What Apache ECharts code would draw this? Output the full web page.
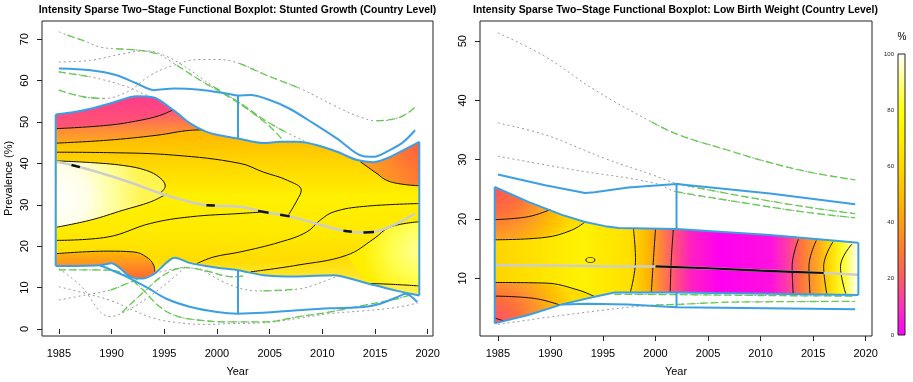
<!DOCTYPE html>
<html>
<head>
<meta charset="utf-8">
<script src="https://cdn.jsdelivr.net/npm/echarts@6/dist/echarts.min.js"></script>
<style>
  html, body { margin: 0; padding: 0; background: #fff; }
  #chart { width: 913px; height: 382px; }
</style>
</head>
<body>
<div id="chart"></div>
<script>
// ---- ticks ----
const yearTicks = [1985, 1990, 1995, 2000, 2005, 2010, 2015, 2020];
const yTicksL = [0, 10, 20, 30, 40, 50, 60, 70];
const yTicksR = [10, 20, 30, 40, 50];

// ---- left panel: stunted growth ----
const boxUpL = [[1984.7,51.8],[1986.5,52.4],[1988,53.2],[1990,54.6],[1992.4,56.2],[1994,55.9],[1995.9,52.8],[1997.5,49.6],[1999,47.6],[2000.6,46.6],[2002,46.0],[2004.4,44.9],[2006,45.2],[2007.6,45.2],[2009.5,44.4],[2011.4,42.8],[2013.3,40.8],[2014.9,40.3],[2016.1,41.2],[2017.7,43.2],[2019.2,45.2]];
const boxLoL = [[1984.7,15.2],[1988.9,15.4],[1990,15.9],[1991.8,12.6],[1993,12.2],[1994.1,13.4],[1996,17.2],[1997.5,15.9],[2000,14.8],[2002,14.2],[2004.4,13.0],[2007.6,12.7],[2011.1,13.0],[2012.6,12.2],[2014.9,10.6],[2017.1,9.2],[2019.2,8.1]];
const fenceUpL = [[1985,62.9],[1988,62.5],[1990.5,61.3],[1992.4,59.3],[1994,57.7],[1995.9,58.1],[1998.4,57.8],[2000.9,56.9],[2002,56.4],[2003.2,56.5],[2005,55.3],[2006.9,53.2],[2009.2,49.6],[2011.4,46.0],[2013.9,41.7],[2014.9,41.6],[2016.4,43.2],[2017.7,45.2],[2018.8,48.0]];
const fenceLoL = [[1988.9,15.4],[1991.1,13.0],[1993.3,10.1],[1995.2,7.3],[1997.5,5.3],[2000,4.1],[2002,3.7],[2004.4,3.9],[2007.6,4.5],[2010.7,5.0],[2013.9,5.3],[2015.5,6.1],[2017.1,7.7],[2017.9,8.5],[2019,6.5]];
const whiskL = [[[2002,46.0],[2002,56.4]], [[2002,14.2],[2002,3.7]]];
const medL = [[1984.8,40.4],[1986.7,39.3],[1989.6,37.2],[1992,35.2],[1994.6,32.8],[1997,31.0],[1999,29.9],[2002.2,29.5],[2004.4,28.3],[2006.9,27.2],[2009.5,25.4],[2012,23.7],[2013.9,23.3],[2015.2,23.6],[2017.1,25.5],[2018.8,27.9]];
const medDashL = [[[1986.2,39.6],[1987.0,39.1]], [[1999.0,29.9],[1999.8,29.8]], [[2003.9,28.5],[2004.9,28.1]], [[2006.0,27.6],[2006.9,27.2]], [[2012.0,23.7],[2012.8,23.5]], [[2013.9,23.3],[2014.9,23.4]]];

const c1L = [[1984.8,48.4],[1989.6,49.2],[1992.7,50.4],[1994.6,51.6],[1995.8,52.9]];
const c2L = [[1984.8,44.9],[1989.6,45.6],[1994.3,46.8],[1997.5,48.0],[1998.7,48.1]];
const c3L = [[1984.8,42.7],[1989.6,42.6],[1995.9,42.0],[2002.2,40.0],[2004.4,37.9],[2006.7,35.9],[2008.0,33.5],[2007.6,31.1],[2006.8,27.6]];
const c4L = [[1984.8,40.6],[1988,40.2],[1991.1,39.5],[1993.3,38.3],[1994.6,36.5],[1995.1,34.5],[1994.6,32.8]];
const c5L = [[1984.8,24.6],[1988,26.3],[1991.1,28.7],[1993.7,30.7],[1995.2,32.6]];
const c6L = [[1984.8,21.4],[1989.6,22.2],[1993.7,25.5],[1997.5,27.1],[2002.2,27.9],[2004,28.2]];
const c7L = [[1984.8,18.2],[1989.6,18.8],[1992.1,18.6],[1993.3,17.4],[1994.0,15.4],[1994.1,13.8]];
const cAL = [[1998.1,15.8],[1999.7,17.4],[2002.2,18.6],[2006,21.0],[2008.5,23.4],[2009.8,26.3],[2011.1,28.3],[2013.9,29.6],[2019.2,30.3]];
const cBL = [[2003.2,13.8],[2007.6,15.4],[2012.3,17.8],[2014.9,21.8],[2016.4,24.6],[2019.2,25.9]];
const cRL = [[2013.6,40.4],[2015.2,37.5],[2016.1,35.9],[2017.5,35.0],[2019.2,34.6]];
const cBRL = [[2014.2,11.0],[2016.5,10.8],[2019.2,10.4]];

const outU1 = [[1985,71.8],[1985.8,71.0],[1987.5,69.5],[1988.9,68.1],[1990.5,67.7],[1992.7,67.3],[1994.3,66.5],[1996.2,63.7],[1998.4,60.1],[2001.6,55.3],[2004.7,49.6],[2006.3,45.5]];
const outU2 = [[1985,64.5],[1988,64.9],[1991.1,66.5],[1993.3,67.2],[1994.6,66.5],[1996.5,64.1],[1999.7,58.5],[2002.2,54.6],[2004.5,50.5],[2006.5,47.6],[2008.3,45.4]];
const outU3 = [[1985,57.7],[1987.3,56.1],[1989.2,55.7],[1991.5,57.3],[1993.7,61.3],[1995.9,63.7],[1998.4,65.1],[2000,65.1],[2002.2,64.1],[2004.7,61.3],[2007.9,58.1],[2011.1,54.0],[2013.6,51.2],[2015.2,50.3],[2017.4,51.2],[2019,54.0]];
const outU4 = [[1985,62.1],[1988,60.9],[1991.5,58.5],[1993.3,56.5],[1994.3,55.7]];
const outLA = [[1985,14.6],[1987,10.6],[1989.9,3.0],[1991.5,4.5],[1993.3,7.3],[1995.2,11.0],[1996.8,14.4]];
const outLB = [[1985,10.2],[1987.5,8.6],[1990,6.8],[1992,4.6],[1994,2.6],[1996,1.6],[1999,1.1],[2001.3,1.3],[2004.4,1.5],[2007.6,2.5],[2010.7,3.7],[2014,4.4],[2017,5.2],[2019.1,6.3]];
const outLC = [[1985,14.3],[1990,14.2],[1991.5,12.6],[1993,9.4],[1994.6,5.3],[1996.2,3.1],[1998.4,2.1],[2001.3,1.7],[2004.4,1.7],[2007.6,2.9],[2010.7,4.1],[2013.9,5.7],[2017.1,7.3],[2018.6,8.4]];
const outLD = [[1985,7.0],[1987.5,8.2],[1989.9,9.4],[1991.5,11.0],[1993,12.6],[1995,14.0],[1997,15.0]];
const outLE = [[1991,4.0],[1993,8.8],[1995.2,13.4],[1997.1,14.8],[1999,14.0],[2001.6,12.6],[2002.5,12.8]];
const outLF = [[1998.4,14.6],[2001.6,10.3],[2004.4,9.2],[2007.6,9.6],[2010.7,12.0],[2011.5,12.9]];

// ---- right panel: low birth weight ----
const boxUpR = [[1984.7,25.4],[1987.9,22.9],[1991.1,20.7],[1993.3,19.5],[1995.2,18.8],[1996.5,18.5],[2002,18.3],[2010.9,17.3],[2019.3,16.0]];
const boxLoR = [[1984.7,2.4],[1987.9,3.8],[1991.1,5.6],[1994.2,6.9],[1996.1,7.6],[2002,7.6],[2019.3,7.2]];
const fenceUpR = [[1985,27.5],[1989.5,25.7],[1993.3,24.4],[1994.2,24.5],[1997.4,25.3],[2002,25.9],[2010.9,24.3],[2019,22.5]];
const fenceLoR = [[1991.1,5.6],[1993.6,5.7],[1997.4,5.6],[2002,5.1],[2019,4.8]];
const whiskR = [[[2002,18.3],[2002,25.9]], [[2002,7.6],[2002,5.1]]];
const medR = [[1984.8,12.2],[1990,12.15],[1995,12.05],[2000,12.0],[2005,11.7],[2010,11.3],[2013,11.1],[2016,10.9],[2019.3,10.6]];

const r1R = [[1984.7,19.9],[1987.9,20.4],[1990,21.6]];
const r2R = [[1984.7,16.5],[1989.5,16.9],[1992,18.1],[1993.3,19.5]];
const r3R = [[1984.7,9.3],[1989.5,9.2],[1992.7,8.0],[1994.2,6.9]];
const r4R = [[1984.7,7.0],[1988.5,6.6],[1990.9,5.5]];
const r5R = [[1984.7,3.3],[1985.6,2.8]];
const vR = [
  [[1997.9,18.4],[1998.1,13.1],[1997.6,7.6]],
  [[2000,18.3],[1999.8,13.1],[1999.6,7.6]],
  [[2001.7,18.3],[2001.5,13.1],[2001.4,7.6]],
  [[2013.6,16.6],[2013.0,12.0],[2013.1,7.4]],
  [[2015.3,16.4],[2014.6,12.0],[2014.7,7.4]],
  [[2016.9,16.2],[2016.0,12.0],[2016.3,7.4]],
  [[2018.7,15.8],[2017.6,12.0],[2018.1,7.4]]
];
const ellipseR = [1993.8, 13.1];

const outRA = [[1985,51.4],[1989.5,47.4],[1994.2,41.8],[1999.6,36.4],[2002.2,34.2],[2006.9,31.6],[2010.1,29.9],[2014.4,28.0],[2019,26.6]];
const outRB = [[1985,36.2],[1989.5,34.2],[1995.2,30.2],[1999.8,27.4],[2002,26.0],[2007.8,24.0],[2014.1,22.1],[2019,20.9]];
const outRC = [[1985,30.6],[1992.2,28.3],[1999.8,26.1],[2002,24.6],[2007.8,22.9],[2014.1,21.2],[2019,20.2]];
const outRD = [[1985,2.2],[1992.6,4.1],[2000,5.5],[2002,5.6],[2007.8,6.0],[2019,6.1]];
const outRE = [[1996.1,7.3],[2002,7.25],[2010,7.1],[2019,7.0]];

// ---- style ----
const FONT = 'Liberation Sans';
const BLUE = '#3d9fe3';
const GRAY = '#9a9a9a';
const GREEN = '#5fcf48';

function lineS(g, data, color, width, type, z, smooth) {
  return {
    type: 'line', xAxisIndex: g, yAxisIndex: g, data: data, symbol: 'none',
    smooth: smooth || false, z: z, silent: true,
    lineStyle: { color: color, width: width, type: type }
  };
}
function poly(g, pts, fill, z) {
  return {
    type: 'custom', xAxisIndex: g, yAxisIndex: g, z: z, silent: true,
    data: [pts[0]],
    renderItem: function (params, api) {
      return {
        type: 'polygon',
        shape: { points: pts.map(function (p) { return api.coord(p); }) },
        style: { fill: fill }
      };
    }
  };
}
const upTo = (c, x) => c.filter(p => p[0] <= x);
const from = (c, x) => c.filter(p => p[0] >= x);
const rev = a => a.slice().reverse();
const lin = (x, y, x2, y2, stops) => ({ type: 'linear', x: x, y: y, x2: x2, y2: y2,
  colorStops: stops.map(s => ({ offset: s[0], color: s[1] })) });
const rad = (x, y, r, stops) => ({ type: 'radial', x: x, y: y, r: r,
  colorStops: stops.map(s => ({ offset: s[0], color: s[1] })) });

const series = [];

// outlier curves: gray dotted, with green dashed parts (index ranges)
const outL = [[outU1, [[1,2],[4,6],[7,11]]], [outU2, [[6,9]]], [outU3, [[0,2],[8,10],[13,15]]], [outU4, [[0,1]]],
  [outLA, []], [outLB, []], [outLC, [[0,13]]], [outLD, [[2,4]]], [outLE, [[0,6]]], [outLF, [[2,3]]]];
const outR = [[outRA, [[3,8]]], [outRB, [[4,7]]], [outRC, [[3,6]]], [outRD, [[2,5]]], [outRE, [[0,3]]]];
[[0, outL], [1, outR]].forEach(function (g) {
  g[1].forEach(function (o) {
    series.push(lineS(g[0], o[0], GRAY, 1, [2, 3], 1, 0.4));
    o[1].forEach(function (r) {
      series.push(lineS(g[0], o[0].slice(r[0], r[1] + 1), GREEN, 1.3, [7, 4], 1, 0.4));
    });
  });
});

// left fills
series.push(poly(0, boxUpL.concat(rev(boxLoL)), lin(0, 0, 0, 1, [[0,'#ffa000'],[0.21,'#ffbd00'],[0.33,'#ffd400'],[0.5,'#fff000'],[0.68,'#ffea00'],[0.82,'#ffdc00'],[1,'#fff25a']]), 2));
series.push(poly(0, c2L.concat(rev(upTo(boxUpL, 1998.7))), lin(0, 0, 0, 1, [[0,'#ff4a86'],[0.35,'#ff5c6c'],[0.7,'#ff8a3a'],[1,'#ffaa1c']]), 3));
series.push(poly(0, c1L.concat(rev(upTo(boxUpL, 1995.8))), lin(0, 0, 0, 1, [[0,'#ff3c8c'],[1,'#ff5670']]), 4));
series.push(poly(0, c4L.concat(rev(c5L)), rad(0, 0.55, 1.3, [[0,'#ffffff'],[0.35,'#fffee8'],[0.65,'#ffffa0'],[1,'#fff450']]), 4));
series.push(poly(0, c7L.concat(rev(upTo(boxLoL, 1994.1))), lin(0, 0, 0, 1, [[0,'#ffb800'],[0.45,'#ff9420'],[1,'#ff682e']]), 4));
series.push(poly(0, cRL.concat(rev(from(boxUpL, 2013.6))), lin(0, 1, 1, 0, [[0,'#ffb010'],[0.5,'#ff8a2a'],[1,'#ff5c40']]), 4));
series.push(poly(0, from(cBL, 2012.3).concat(rev(cBRL)), rad(1, 0.45, 0.9, [[0,'#ffff98'],[0.45,'#ffff50'],[1,'#ffee00']]), 4));

// right fills
series.push(poly(1, boxUpR.concat(rev(boxLoR)), lin(0, 0, 1, 0, [[0,'#ffd400'],[0.24,'#fff200'],[0.37,'#ffe000'],[0.42,'#ffb800'],[0.46,'#ff8040'],[0.5,'#ff4c80'],[0.54,'#ff20c0'],[0.62,'#ff00f0'],[0.76,'#ff10e0'],[0.81,'#ff40a0'],[0.84,'#ff7040'],[0.89,'#ffa820'],[0.92,'#ffd800'],[0.96,'#ffff30'],[1,'#ffffff']]), 2));
series.push(poly(1, r2R.concat(rev(upTo(boxUpR, 1993.3))), rad(0, 0, 1.6, [[0,'#ff5458'],[0.3,'#ff6e3c'],[0.55,'#ff9828'],[0.8,'#ffc000'],[1,'#ffdc00']]), 3));
series.push(poly(1, r3R.concat(rev(upTo(boxLoR, 1994.2))), rad(0, 1, 2.0, [[0,'#ff5070'],[0.3,'#ff6e3c'],[0.55,'#ff9828'],[0.8,'#ffc000'],[1,'#ffdc00']]), 3));

// contours
[c1L, c2L, c3L, c4L, c5L, c6L, c7L, cAL, cBL, cRL, cBRL].forEach(c => series.push(lineS(0, c, '#111', 1, 'solid', 10, 0.4)));
[r1R, r2R, r3R, r4R, r5R].concat(vR).forEach(c => series.push(lineS(1, c, '#111', 1, 'solid', 10, 0.4)));
series.push({ type: 'scatter', xAxisIndex: 1, yAxisIndex: 1, data: [ellipseR], symbol: 'circle', symbolSize: [9, 5], silent: true, z: 10,
  itemStyle: { color: 'rgba(0,0,0,0)', borderColor: '#111', borderWidth: 1 } });

// medians
series.push(lineS(0, medL, '#cdcdcd', 2.5, 'solid', 11, 0.4));
medDashL.forEach(d => series.push(lineS(0, d, '#111', 2.5, 'solid', 11, false)));
series.push(lineS(1, medR, '#cdcdcd', 2.5, 'solid', 11, false));
series.push(lineS(1, medR.filter(p => p[0] >= 2000 && p[0] <= 2016), '#111', 2.2, 'solid', 11, false));

// blue boxplot lines
[boxUpL, boxLoL, fenceUpL, fenceLoL].forEach(c => series.push(lineS(0, c, BLUE, 2, 'solid', 12, 0.3)));
[[boxLoL[0], boxUpL[0]], [boxLoL[boxLoL.length - 1], boxUpL[boxUpL.length - 1]]].concat(whiskL)
  .forEach(c => series.push(lineS(0, c, BLUE, 2, 'solid', 12, false)));
[boxUpR, boxLoR, fenceUpR, fenceLoR].forEach(c => series.push(lineS(1, c, BLUE, 2, 'solid', 12, false)));
[[boxLoR[0], boxUpR[0]], [boxLoR[boxLoR.length - 1], boxUpR[boxUpR.length - 1]]].concat(whiskR)
  .forEach(c => series.push(lineS(1, c, BLUE, 2, 'solid', 12, false)));

// colour scale bar
series.push({ type: 'bar', xAxisIndex: 2, yAxisIndex: 2, data: [100], barWidth: '100%', silent: true, z: 1,
  itemStyle: { color: new echarts.graphic.LinearGradient(0, 1, 0, 0, [
    { offset: 0, color: '#ff00ff' }, { offset: 0.1, color: '#ff30c0' }, { offset: 0.2, color: '#ff5a64' },
    { offset: 0.3, color: '#ff7a30' }, { offset: 0.4, color: '#ff9c10' }, { offset: 0.5, color: '#ffbd00' },
    { offset: 0.6, color: '#ffd800' }, { offset: 0.7, color: '#ffee00' }, { offset: 0.8, color: '#ffff10' },
    { offset: 0.9, color: '#ffff80' }, { offset: 1, color: '#ffffff' }]) } });

const labelStyle = { color: '#000', fontSize: 11, fontFamily: FONT };
const plain = v => String(v);
function xAx(g, min, max) {
  return {
    gridIndex: g, type: 'value', min: min, max: max,
    axisLine: { show: false }, splitLine: { show: false },
    axisTick: { customValues: yearTicks, length: 5, lineStyle: { color: '#222' } },
    axisLabel: Object.assign({ customValues: yearTicks, margin: 12, formatter: plain }, labelStyle),
    name: 'Year', nameLocation: 'middle', nameGap: 30, nameTextStyle: labelStyle
  };
}
function yAx(g, min, max, ticks, name) {
  return {
    gridIndex: g, type: 'value', min: min, max: max,
    axisLine: { show: false }, splitLine: { show: false },
    axisTick: { customValues: ticks, length: 5, lineStyle: { color: '#222' } },
    axisLabel: Object.assign({ customValues: ticks, margin: 12, rotate: 90, formatter: plain }, labelStyle),
    name: name, nameLocation: 'middle', nameGap: 28, nameTextStyle: labelStyle
  };
}
const titleFont = 'bold 10.4px "Liberation Sans"';

const chart = echarts.init(document.getElementById('chart'), null, { renderer: 'canvas' });
chart.setOption({
  animation: false,
  backgroundColor: '#fff',
  grid: [
    { left: 42, top: 21, width: 391, height: 315, show: true, borderColor: '#222', borderWidth: 1, backgroundColor: 'transparent' },
    { left: 480, top: 21, width: 392, height: 315, show: true, borderColor: '#222', borderWidth: 1, backgroundColor: 'transparent' },
    { left: 898, top: 54, width: 7, height: 281, show: true, borderColor: '#222', borderWidth: 1, backgroundColor: 'transparent', z: 5 }
  ],
  xAxis: [
    xAx(0, 1983.4, 2020.5),
    xAx(1, 1983.3, 2020.6),
    { gridIndex: 2, type: 'category', data: ['scale'], show: false }
  ],
  yAxis: [
    yAx(0, -1.7, 74.4, yTicksL, 'Prevalence (%)'),
    yAx(1, 0.27, 53.4, yTicksR, ''),
    { gridIndex: 2, type: 'value', min: 0, max: 100, interval: 20, z: 5,
      axisLine: { show: false }, splitLine: { show: false },
      axisTick: { inside: true, length: 9, lineStyle: { color: '#222' } },
      axisLabel: { fontSize: 6, margin: 4, color: '#222', fontFamily: FONT } }
  ],
  graphic: [
    { type: 'text', x: 237.5, y: 10, silent: true, style: { text: 'Intensity Sparse Two\u2013Stage Functional Boxplot: Stunted Growth (Country Level)', font: titleFont, fill: '#000', textAlign: 'center', textVerticalAlign: 'middle' } },
    { type: 'text', x: 675.5, y: 10, silent: true, style: { text: 'Intensity Sparse Two\u2013Stage Functional Boxplot: Low Birth Weight (Country Level)', font: titleFont, fill: '#000', textAlign: 'center', textVerticalAlign: 'middle' } },
    { type: 'text', x: 902, y: 37, silent: true, style: { text: '%', font: '10px "Liberation Sans"', fill: '#000', textAlign: 'center', textVerticalAlign: 'middle' } }
  ],
  series: series
});
</script>
</body>
</html>
